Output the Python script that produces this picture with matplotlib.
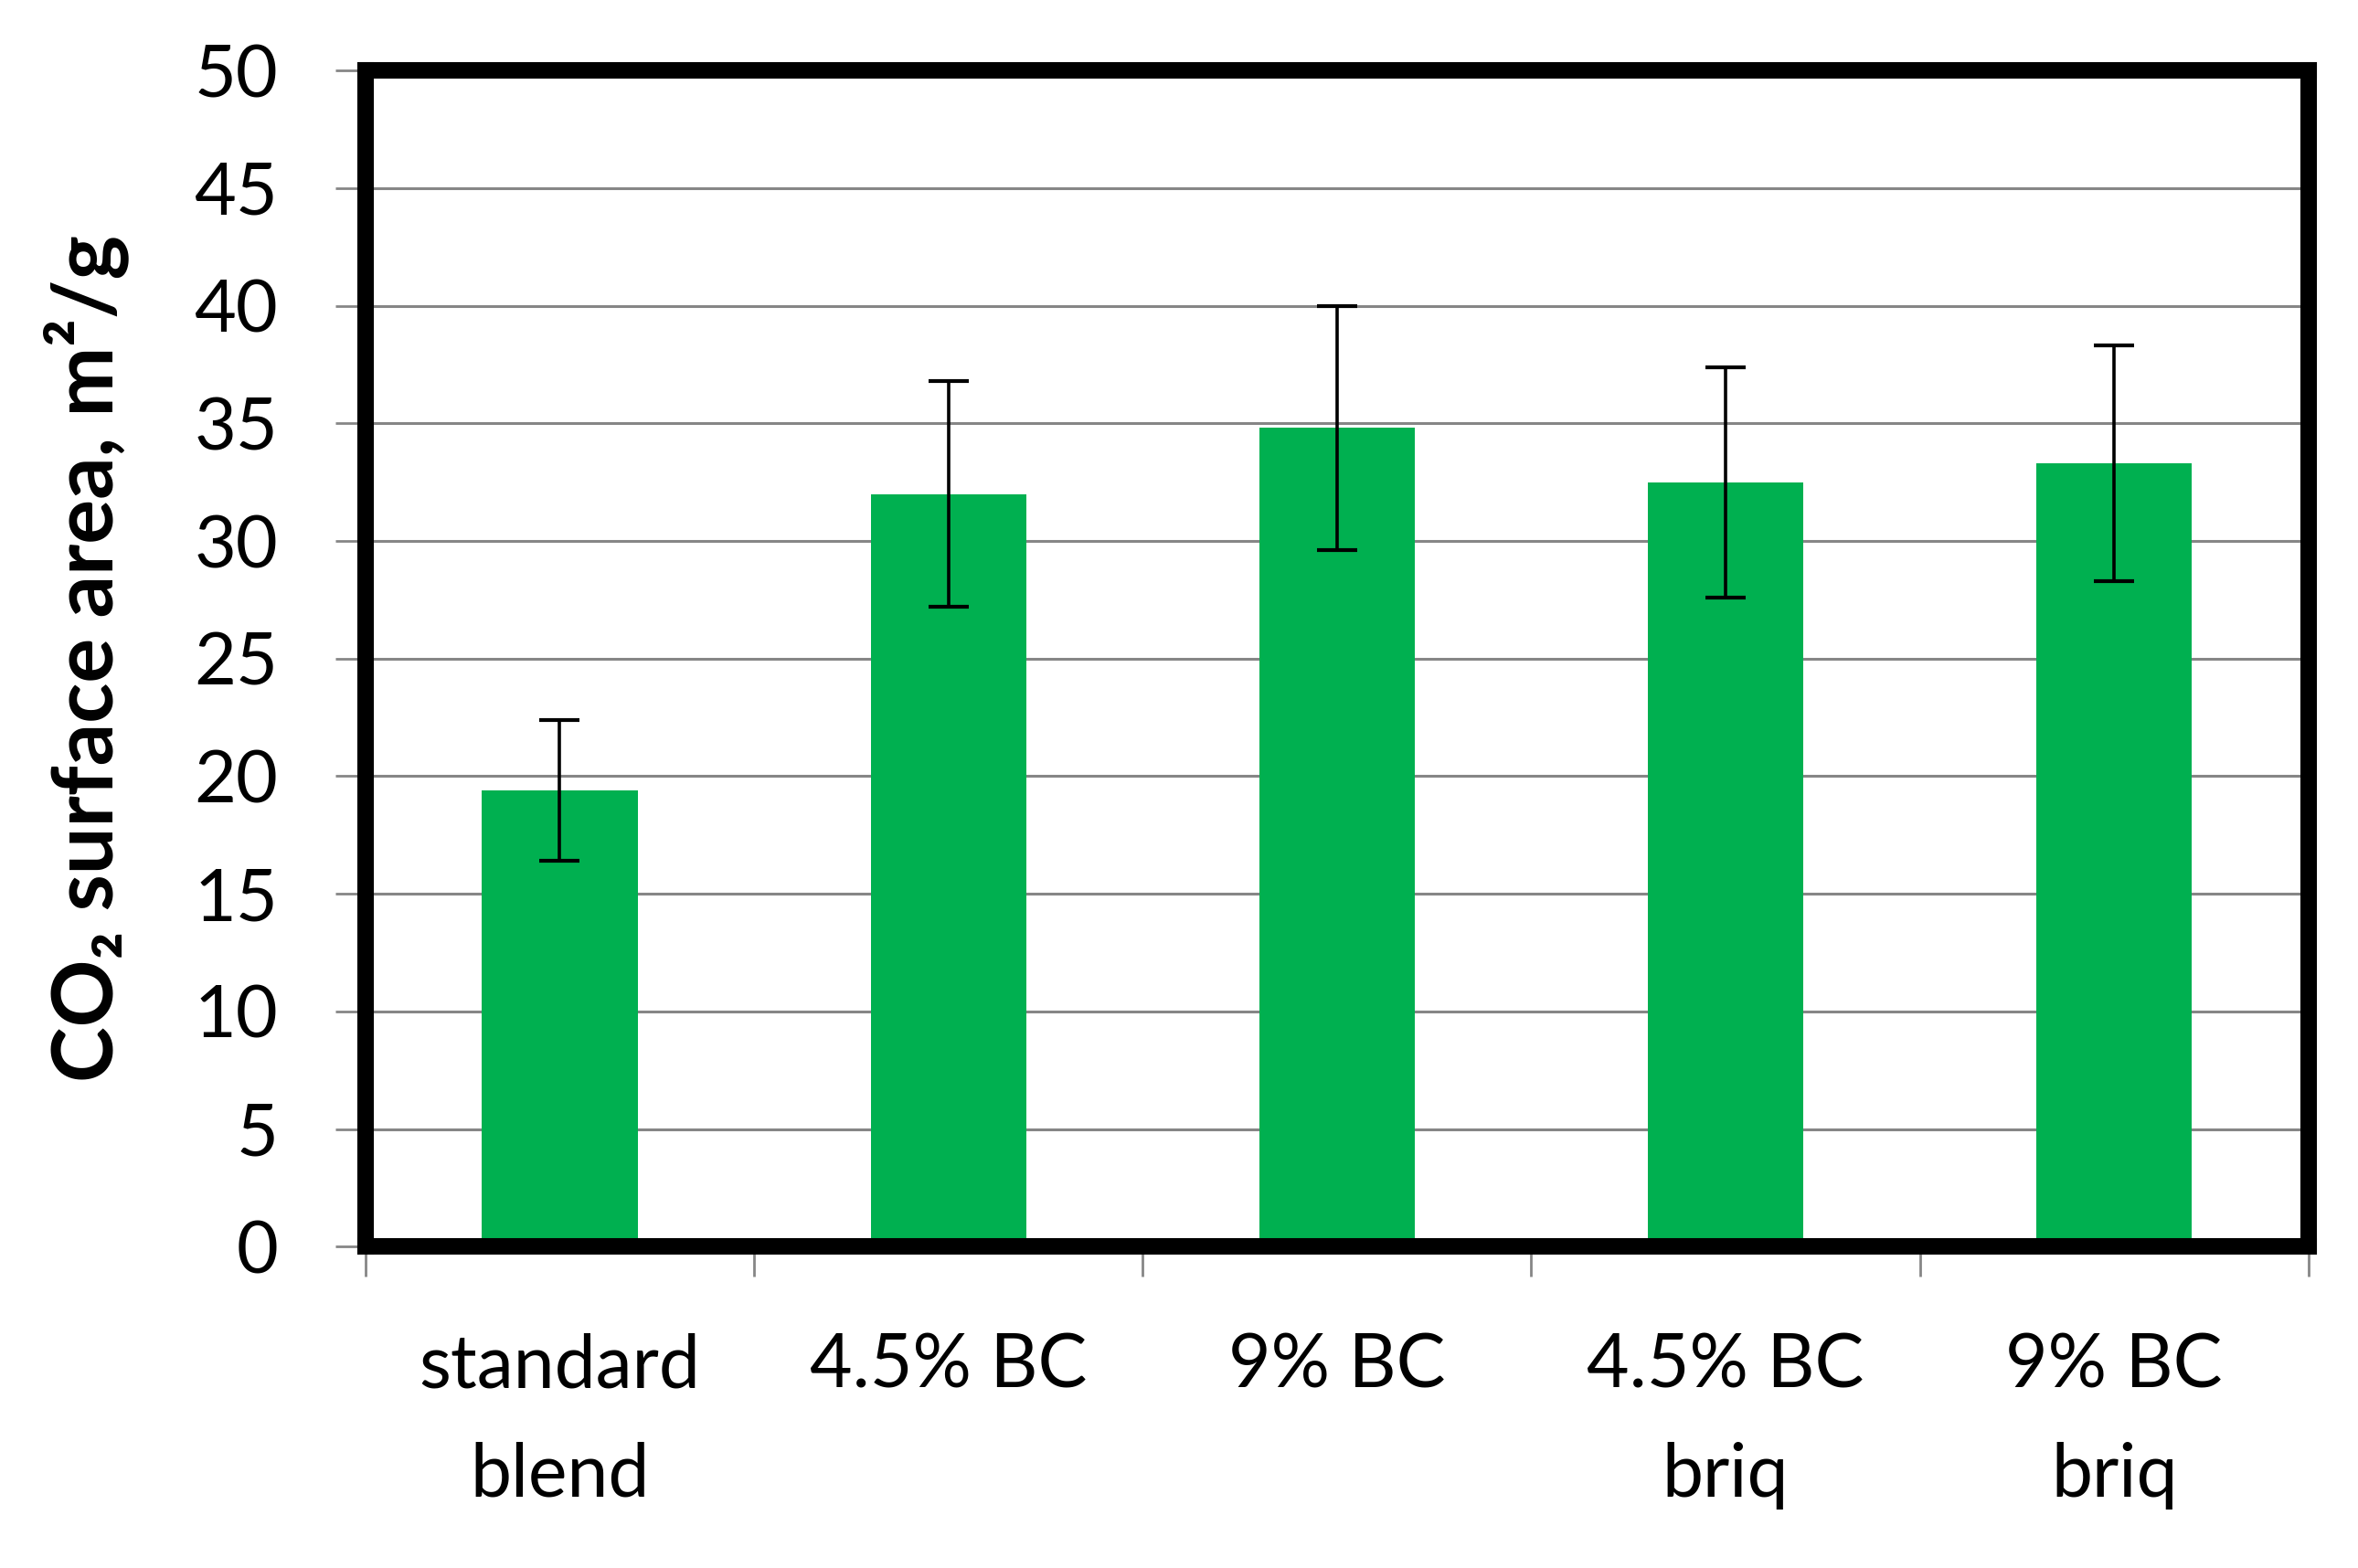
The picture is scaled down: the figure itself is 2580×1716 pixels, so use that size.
import numpy as np
import matplotlib
matplotlib.use("Agg")
import matplotlib.pyplot as plt

plt.rcParams['font.family'] = ['Lato', 'DejaVu Sans']

# --- data ---
categories = ["standard\nblend", "4.5% BC", "9% BC", "4.5% BC\nbriq", "9% BC\nbriq"]
surface_area = [19.4, 32.0, 34.8, 32.5, 33.3]
error = [3.0, 4.8, 5.2, 4.9, 5.0]
y_ticks = list(range(0, 55, 5))

bar_color = "#00B050"
grid_gray = "#868686"

fig = plt.figure(figsize=(25.8, 17.16), dpi=100)
ax = fig.add_axes([0.155, 0.205, 0.824, 0.75])

x = np.arange(1, len(categories) + 1)
ax.bar(x, surface_area, width=0.4, color=bar_color, zorder=2)
ax.errorbar(x, surface_area, yerr=error, fmt="none", ecolor="black",
            elinewidth=2.6, capsize=16, capthick=3, zorder=3)

ax.set_xlim(0.5, len(categories) + 0.5)
ax.set_ylim(0, 50)
ax.set_yticks(y_ticks)
ax.grid(axis="y", color=grid_gray, linewidth=2.2, zorder=1)
ax.set_axisbelow(True)

# category boundaries get the tick marks, labels sit in the middle
ax.set_xticks(np.arange(0.5, len(categories) + 1, 1.0))
ax.set_xticklabels([])
ax.set_xticks(x, minor=True)
ax.set_xticklabels(categories, minor=True, fontsize=58, linespacing=1.75)
ax.tick_params(axis="x", which="minor", length=0, pad=68)
ax.tick_params(axis="x", which="major", length=24, width=2, color=grid_gray, direction="out")
ax.tick_params(axis="y", length=24, width=2, color=grid_gray, direction="out",
               labelsize=57, pad=45)

for s in ax.spines.values():
    s.set_color("black")
    s.set_linewidth(13)

ax.set_ylabel("CO₂ surface area, m²/g", fontsize=66, fontweight="bold")
ax.yaxis.set_label_coords(-0.122, 0.5)

fig.savefig("out.png", dpi=100)
